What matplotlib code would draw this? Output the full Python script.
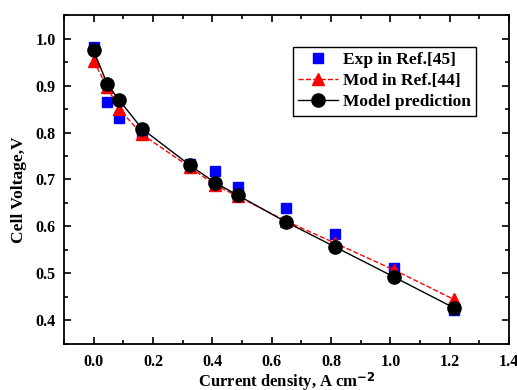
import numpy as np
import matplotlib.pyplot as plt

plt.rcParams['font.family'] = ['Liberation Serif', 'DejaVu Serif']
plt.rcParams['font.weight'] = 'bold'
plt.rcParams['mathtext.default'] = 'regular'

# data
x_exp = [0.0, 0.045, 0.086, 0.163, 0.325, 0.41, 0.487, 0.647, 0.8125, 1.011, 1.214]
v_exp = [0.981, 0.865, 0.831, 0.800, 0.734, 0.718, 0.684, 0.640, 0.584, 0.512, 0.423]

x_mod = [0.0, 0.045, 0.086, 0.163, 0.325, 0.41, 0.487, 0.647, 0.8125, 1.011, 1.214]
v_mod = [0.953, 0.897, 0.850, 0.796, 0.726, 0.688, 0.664, 0.612, 0.565, 0.508, 0.445]

x_pred = [0.0, 0.045, 0.086, 0.163, 0.325, 0.41, 0.487, 0.647, 0.8125, 1.011, 1.214]
v_pred = [0.9745, 0.904, 0.869, 0.808, 0.730, 0.693, 0.666, 0.610, 0.557, 0.493, 0.427]

fig = plt.figure(figsize=(5.17, 3.9), dpi=100)
ax = fig.add_axes([0.1238, 0.118, 0.8607, 0.8435])

ax.plot(x_exp, v_exp, 's', color='blue', ms=7, mec='blue', label='Exp in Ref.[45]', zorder=2)
ax.plot(x_mod, v_mod, '--^', color='red', ms=9, lw=1, label='Mod in Ref.[44]', zorder=3)
ax.plot(x_pred, v_pred, '-o', color='black', ms=9.5, lw=1, label='Model prediction', zorder=4)

ax.set_xlim(-0.1, 1.4)
ax.set_ylim(0.35, 1.05)
ax.set_xticks(np.arange(0.0, 1.41, 0.2))
ax.set_xticks(np.arange(-0.1, 1.41, 0.1), minor=True)
ax.set_yticks(np.arange(0.4, 1.01, 0.1))
ax.set_yticks(np.arange(0.35, 1.051, 0.05), minor=True)
ax.xaxis.set_major_formatter(plt.FormatStrFormatter('%.1f'))
ax.yaxis.set_major_formatter(plt.FormatStrFormatter('%.1f'))
ax.tick_params(which='both', direction='in', top=True, right=True, labelsize=11.5, width=1.2)
ax.tick_params(which='major', length=5)
ax.tick_params(which='minor', length=3)
ax.tick_params(axis='x', pad=7)
ax.tick_params(axis='y', pad=6)
for sp in ax.spines.values():
    sp.set_linewidth(1.3)

ax.set_xlabel('Current density, A cm$^{\\mathbf{-2}}$', fontsize=12, fontweight='bold')
ax.xaxis.set_label_coords(0.5, -0.08)
ax.set_ylabel('Cell Voltage,V', fontsize=12.5, fontweight='bold')
ax.yaxis.set_label_coords(-0.083, 0.468)

leg = ax.legend(loc='upper right', bbox_to_anchor=(0.926, 0.903), fancybox=False,
                edgecolor='black', fontsize=12.5, handlelength=2.3, borderpad=0.3,
                labelspacing=0.28, handletextpad=0.3, borderaxespad=0)
leg.get_frame().set_linewidth(1.0)
leg.get_frame().set_alpha(1)

fig.savefig('out.png', dpi=100)
